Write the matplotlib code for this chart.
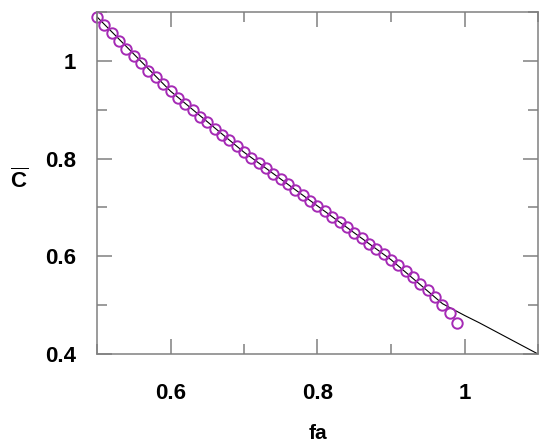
import numpy as np
import matplotlib
matplotlib.use("Agg")
import matplotlib.pyplot as plt
from matplotlib.ticker import MultipleLocator, FuncFormatter

plt.rcParams['font.family'] = ['Liberation Sans', 'DejaVu Sans']
plt.rcParams['mathtext.fontset'] = 'custom'
plt.rcParams['mathtext.rm'] = 'Liberation Sans'
plt.rcParams['mathtext.bf'] = 'Liberation Sans:bold'

# measured points (circles)
fa = [0.50, 0.51, 0.52, 0.53, 0.54, 0.55, 0.56, 0.57, 0.58, 0.59,
      0.60, 0.61, 0.62, 0.63, 0.64, 0.65, 0.66, 0.67, 0.68, 0.69,
      0.70, 0.71, 0.72, 0.73, 0.74, 0.75, 0.76, 0.77, 0.78, 0.79,
      0.80, 0.81, 0.82, 0.83, 0.84, 0.85, 0.86, 0.87, 0.88, 0.89,
      0.90, 0.91, 0.92, 0.93, 0.94, 0.95, 0.96, 0.97, 0.98, 0.99]
cl = [1.090, 1.073, 1.057, 1.041, 1.025, 1.010, 0.995, 0.980, 0.966, 0.952,
      0.938, 0.925, 0.912, 0.899, 0.886, 0.874, 0.861, 0.849, 0.837, 0.825,
      0.813, 0.802, 0.791, 0.780, 0.769, 0.758, 0.747, 0.736, 0.725, 0.714,
      0.703, 0.692, 0.681, 0.670, 0.659, 0.648, 0.637, 0.626, 0.615, 0.604,
      0.593, 0.582, 0.570, 0.557, 0.544, 0.531, 0.517, 0.501, 0.484, 0.463]

# fitted curve (black line)
line_fa = [0.50, 0.60, 0.70, 0.80, 0.90, 0.97, 1.00, 1.02, 1.04, 1.07, 1.10]
line_cl = [1.090, 0.938, 0.813, 0.703, 0.593, 0.503, 0.479, 0.464, 0.448, 0.424, 0.400]

fig = plt.figure(figsize=(5.5, 4.47), dpi=100)
ax = fig.add_axes([97/550, 1-354/447, 441/550, 342/447])

ax.plot(line_fa, line_cl, color='black', lw=0.8)
ax.plot(fa, cl, 'o', mfc='none', mec='#a52ab5', mew=1.4, ms=7.5, clip_on=False)

ax.set_xlim(0.5, 1.1)
ax.set_ylim(0.4, 1.1)
fmt = FuncFormatter(lambda v, p: '%g' % round(v, 3))
ax.xaxis.set_major_locator(MultipleLocator(0.2))
ax.xaxis.set_minor_locator(MultipleLocator(0.1))
ax.yaxis.set_major_locator(MultipleLocator(0.2))
ax.yaxis.set_minor_locator(MultipleLocator(0.1))
ax.xaxis.set_major_formatter(fmt)
ax.yaxis.set_major_formatter(fmt)

gray = '#808080'
for s in ax.spines.values():
    s.set_color(gray)
    s.set_linewidth(1.1)
ax.tick_params(which='both', direction='in', top=True, right=True, color=gray, width=1.1)
ax.tick_params(which='major', length=10.8)
ax.tick_params(which='minor', length=7.2)
ax.tick_params(axis='x', which='major', pad=21, labelsize=16)
ax.tick_params(axis='y', which='major', pad=15, labelsize=16)
for lab in ax.get_xticklabels() + ax.get_yticklabels():
    lab.set_fontweight('bold')

ax.set_xlabel('fa', fontsize=15, fontweight='bold', labelpad=14)
fig.text(19/550, 1-181/447, r'$\overline{\mathbf{C}}$', fontsize=16,
         ha='center', va='center')

fig.savefig('out.png', dpi=100)
